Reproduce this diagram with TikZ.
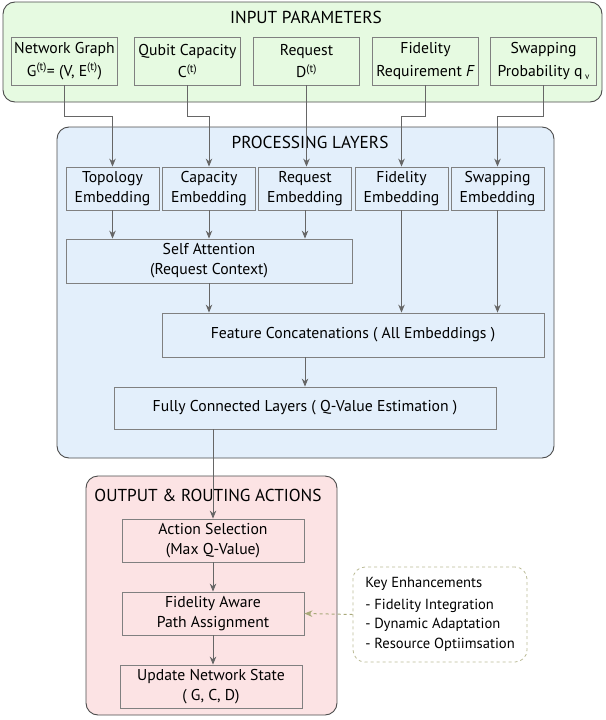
\documentclass[tikz,border=0pt]{standalone}
\usepackage{fontspec}
\setmainfont{PT Sans}
\usetikzlibrary{arrows.meta}

\definecolor{inputgreen}{HTML}{E6FAE1}
\definecolor{procblue}{HTML}{E3EFFB}
\definecolor{outpink}{HTML}{FCE3E4}
\definecolor{linegray}{HTML}{666666}
\definecolor{boxgray}{HTML}{808080}
\definecolor{keyolive}{HTML}{A9A97A}

\tikzset{
	panel/.style    = {draw=black!70, line width=0.9pt, rounded corners=12pt},
	paneltitle/.style = {font=\fontsize{17.3}{20}\selectfont, inner sep=0pt},
	stepbox/.style  = {draw=boxgray, line width=0.8pt, align=center, inner sep=0pt, font=\fontsize{15.7}{20}\selectfont},
	inbox/.style    = {stepbox, fill=inputgreen, minimum width=106pt, minimum height=48pt, font=\fontsize{15.7}{22.5}\selectfont},
	embbox/.style   = {stepbox, fill=procblue, minimum width=93pt, minimum height=43pt},
	outbox/.style   = {stepbox, fill=outpink, minimum width=182pt, minimum height=43pt},
	arr/.style      = {draw=linegray, line width=1pt, -{Stealth[length=8pt, width=6.5pt]}},
	keyarr/.style   = {draw=keyolive, line width=1pt, dashed, -{Stealth[length=8pt, width=6.5pt]}},
}

\begin{document}
\begin{tikzpicture}[x=1pt, y=-1pt]

	\useasboundingbox (0,0) rectangle (605,720);

	%%% INPUT PARAMETERS %%%

	\draw[panel, fill=inputgreen] (3, 2) rectangle (602, 102);
	\node[paneltitle] (intitle) at (306, 17) {INPUT PARAMETERS};

	\node[inbox] (in1) at ( 64.5, 61) {Network Graph\\G\textsuperscript{(t)}= (V, E\textsuperscript{(t)})};
	\node[inbox] (in2) at (187.5, 61) {Qubit Capacity\\C\textsuperscript{(t)}};
	\node[inbox] (in3) at (306.5, 61) {Request\\D\textsuperscript{(t)}};
	\node[inbox] (in4) at (425.5, 61) {Fidelity\\Requirement \textit{F}};
	\node[inbox] (in5) at (543.5, 61) {Swapping\\Probability q\,\raisebox{-3pt}{\small v}};

	%%% PROCESSING LAYERS %%%

	\draw[panel, fill=procblue] (57, 127) rectangle (554, 458);
	\node[paneltitle] (proctitle) at (310, 142) {PROCESSING LAYERS};

	\node[embbox] (emb1) at (112.5, 188.5) {Topology\\Embedding};
	\node[embbox] (emb2) at (209,   188.5) {Capacity\\Embedding};
	\node[embbox] (emb3) at (305,   188.5) {Request\\Embedding};
	\node[embbox] (emb4) at (401.5, 188.5) {Fidelity\\Embedding};
	\node[embbox] (emb5) at (497.5, 188.5) {Swapping\\Embedding};

	\node[embbox, minimum width=286pt, minimum height=44pt] (att) at (209, 261) {Self Attention\\(Request Context)};
	\node[embbox, minimum width=382pt, minimum height=44pt] (cat) at (353, 335) {Feature Concatenations ( All Embeddings )};
	\node[embbox, minimum width=382pt, minimum height=42pt] (fc)  at (305, 408) {Fully Connected Layers ( Q-Value Estimation )};

	%%% OUTPUT & ROUTING ACTIONS %%%

	\draw[panel, fill=outpink] (86, 476) rectangle (337, 715);
	\node[paneltitle] (outtitle) at (208, 495) {OUTPUT \& ROUTING ACTIONS};

	\node[outbox] (act) at (213, 540.5) {Action Selection\\(Max Q-Value)};
	\node[outbox] (fa)  at (213, 613.5) {Fidelity Aware\\Path Assignment};
	\node[outbox] (upd) at (211, 686.5) {Update Network State\\( G, C, D)};

	\node[draw=keyolive!80, line width=0.8pt, dashed, rounded corners=12pt, minimum width=174pt, minimum height=95pt,
		align=left, font=\fontsize{14.6}{19.5}\selectfont] (key) at (440, 614.5)
		{Key Enhancements\\[2pt]- Fidelity Integration\\- Dynamic Adaptation\\- Resource Optiimsation};

	%%% CONNECTORS %%%

	\draw[arr] (in1.south) -- ++(0, 31) -| (emb1.north);
	\draw[arr] (in2.south) -- ++(0, 31) -| (emb2.north);
	\draw[arr] (in3.south) -- (in3.south |- emb3.north);
	\draw[arr] (in4.south) -- ++(0, 31) -| (emb4.north);
	\draw[arr] (in5.south) -- ++(0, 31) -| (emb5.north);

	\draw[arr] (emb1.south) -- (emb1.south |- att.north);
	\draw[arr] (emb2.south) -- (emb2.south |- att.north);
	\draw[arr] (emb3.south) -- (emb3.south |- att.north);
	\draw[arr] (att.south)  -- (att.south |- cat.north);
	\draw[arr] (emb4.south) -- (emb4.south |- cat.north);
	\draw[arr] (emb5.south) -- (emb5.south |- cat.north);
	\draw[arr] (fc.north |- cat.south) -- (fc.north);
	\draw[arr] (act.north |- fc.south) -- (act.north);

	\draw[arr] (act.south) -- (act.south |- fa.north);
	\draw[arr] (fa.south)  -- (fa.south |- upd.north);
	\draw[keyarr] (key.west) -- (fa.east);

\end{tikzpicture}
\end{document}
